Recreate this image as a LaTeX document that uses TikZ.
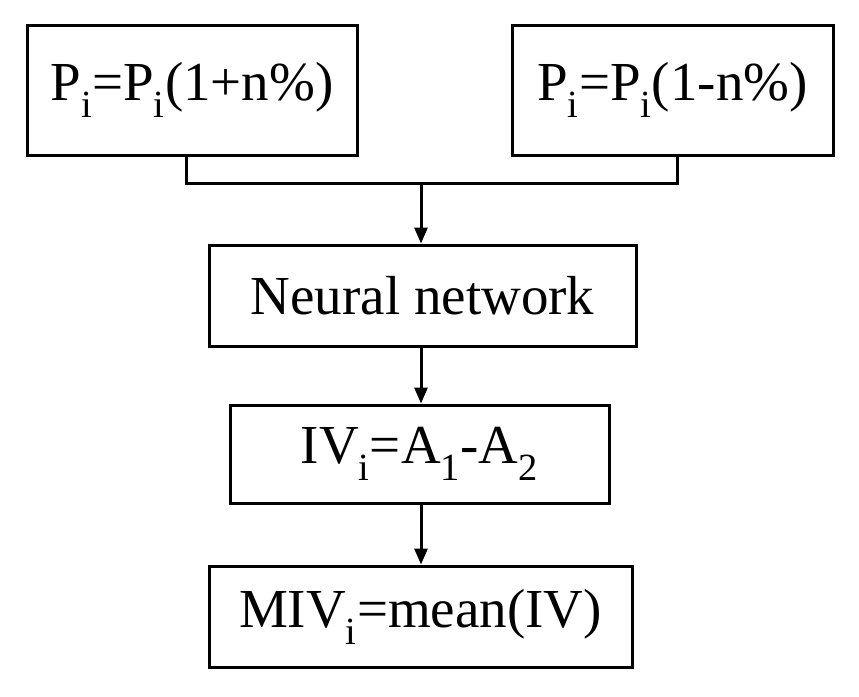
\documentclass[tikz,border=0pt]{standalone}
\usepackage{fontspec}
\setmainfont{Liberation Serif}
\usetikzlibrary{arrows.meta}
\begin{document}
\begin{tikzpicture}[x=1pt,y=-1pt,
  box/.style={draw,line width=3pt,inner sep=0pt,font=\fontsize{55}{60}\selectfont},
  conn/.style={line width=3pt},
  arr/.style={conn,-{Triangle[length=16pt,width=13pt]}}]
\useasboundingbox (0,0) rectangle (859,696);
\node[box,minimum width=330pt,minimum height=130pt] (L) at (192,90) {P\textsubscript{i}=P\textsubscript{i}(1+n\%)};
\node[box,minimum width=321pt,minimum height=130pt] (R) at (672.5,90) {P\textsubscript{i}=P\textsubscript{i}(1-n\%)};
\node[box,minimum width=427pt,minimum height=101pt] (N) at (422.5,295.5) {Neural network};
\node[box,minimum width=379pt,minimum height=98pt] (I) at (419.5,454) {IV\textsubscript{i}=A\textsubscript{1}-A\textsubscript{2}};
\node[box,minimum width=423pt,minimum height=101pt] (M) at (420.5,616.5) {MIV\textsubscript{i}=mean(IV)};
\coordinate (J) at (421,183);
\draw[conn] (L.south -| 186,0) -- (186,183) -- (677,183) -- (R.south -| 677,0);
\draw[arr] (J) -- (J |- N.north);
\draw[arr] (N.south -| 421,0) -- (I.north -| 421,0);
\draw[arr] (I.south -| 421,0) -- (M.north -| 421,0);
\end{tikzpicture}
\end{document}
